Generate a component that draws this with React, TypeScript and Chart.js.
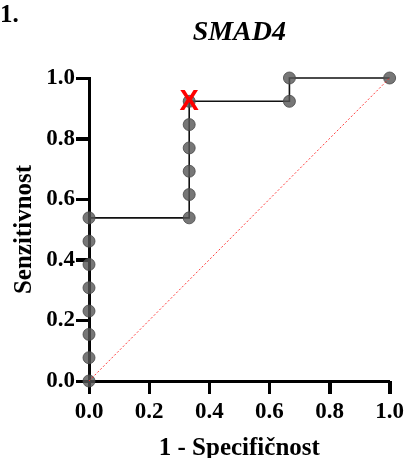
import React, { useEffect, useRef } from "react";
import { Chart, registerables } from "chart.js";

Chart.register(...registerables);

const fpr = [0, 0, 0, 0, 0, 0, 0, 0, 0.3333, 0.3333, 0.3333, 0.3333, 0.3333, 0.3333, 0.6667, 0.6667, 1];
const tpr = [0, 0.0769, 0.1538, 0.2308, 0.3077, 0.3846, 0.4615, 0.5385, 0.5385, 0.6154, 0.6923, 0.7692, 0.8462, 0.9231, 0.9231, 1, 1];
const refX = [0, 1];
const refY = [0, 1];
const cutX = [0.3333];
const cutY = [0.9231];
const panelLabel = "1.";
const chartTitle = "SMAD4";
const xTitle = "1 - Specifičnost";
const yTitle = "Senzitivnost";

const SERIF = "'Liberation Serif', 'Times New Roman', serif";
const TICK_LEN = 13;

export default function App() {
  const ref = useRef<HTMLCanvasElement>(null);
  useEffect(() => {
    const canvas = ref.current!;
    const textPlugin = {
      id: "texts",
      beforeDatasetsDraw(chart: any) {
        const ctx = chart.ctx;
        const xs = chart.scales.x;
        const ys = chart.scales.y;
        const a = chart.chartArea;
        ctx.save();
        ctx.strokeStyle = "#000";
        ctx.lineWidth = 3;
        ctx.setLineDash([]);
        ctx.beginPath();
        for (const t of xs.ticks) {
          const px = Math.round(xs.getPixelForValue(t.value)) + 0.5;
          ctx.moveTo(px, a.bottom);
          ctx.lineTo(px, a.bottom + TICK_LEN);
        }
        for (const t of ys.ticks) {
          const py = Math.round(ys.getPixelForValue(t.value)) + 0.5;
          ctx.moveTo(a.left, py);
          ctx.lineTo(a.left - TICK_LEN, py);
        }
        ctx.stroke();
        ctx.restore();
      },
      afterDatasetsDraw(chart: any) {
        const ctx = chart.ctx;
        const xs = chart.scales.x;
        const ys = chart.scales.y;
        ctx.save();
        ctx.fillStyle = "#ff0000";
        ctx.font = "bold 29px 'Liberation Sans', Arial, sans-serif";
        ctx.textAlign = "center";
        ctx.textBaseline = "middle";
        for (let i = 0; i < cutX.length; i++) {
          ctx.fillText("X", xs.getPixelForValue(cutX[i]), ys.getPixelForValue(cutY[i]) + 1);
        }
        ctx.restore();
      },
      afterDraw(chart: any) {
        const ctx = chart.ctx;
        const a = chart.chartArea;
        ctx.save();
        ctx.fillStyle = "#000";
        ctx.textBaseline = "alphabetic";
        ctx.textAlign = "left";
        ctx.font = `bold 25px ${SERIF}`;
        ctx.fillText(panelLabel, 0, 22);
        ctx.textAlign = "center";
        ctx.font = `italic bold 28px ${SERIF}`;
        ctx.fillText(chartTitle, (a.left + a.right) / 2, 40);
        ctx.font = `bold 25px ${SERIF}`;
        ctx.fillText(xTitle, (a.left + a.right) / 2, 455);
        ctx.translate(31, (a.top + a.bottom) / 2);
        ctx.rotate(-Math.PI / 2);
        ctx.fillText(yTitle, 0, 0);
        ctx.restore();
      },
    };
    const tickFont = { family: SERIF, size: 23, weight: "bold" as const };
    const chart = new Chart(canvas, {
      type: "scatter",
      data: {
        datasets: [
          {
            label: "ref",
            data: refX.map((x, i) => ({ x, y: refY[i] })),
            showLine: true,
            borderColor: "rgba(255,40,40,0.9)",
            borderWidth: 1,
            borderDash: [2, 2],
            pointRadius: 0,
            clip: false as any,
          },
          {
            label: "ROC",
            data: fpr.map((x, i) => ({ x, y: tpr[i] })),
            showLine: true,
            borderColor: "#111",
            borderWidth: 1.6,
            pointRadius: 6,
            pointBackgroundColor: "rgba(85,85,85,0.8)",
            pointBorderColor: "rgba(70,70,70,0.8)",
            pointBorderWidth: 1,
            clip: false as any,
          },
        ],
      },
      options: {
        animation: false,
        responsive: false,
        layout: { padding: { top: 78, right: 17, left: 0, bottom: 0 } },
        plugins: { legend: { display: false }, tooltip: { enabled: false } },
        scales: {
          x: {
            min: 0,
            max: 1,
            afterFit: (s: any) => { s.height = 77; },
            border: { display: true, color: "#000", width: 3 },
            grid: { drawOnChartArea: false, tickLength: TICK_LEN, tickColor: "#000", tickWidth: 3 },
            ticks: { stepSize: 0.2, color: "#000", font: tickFont, padding: 4, maxRotation: 0, callback: (v: any) => Number(v).toFixed(1) },
          },
          y: {
            min: 0,
            max: 1,
            afterFit: (s: any) => { s.width = 89; },
            border: { display: true, color: "#000", width: 3 },
            grid: { drawOnChartArea: false, tickLength: TICK_LEN, tickColor: "#000", tickWidth: 3 },
            ticks: { stepSize: 0.2, color: "#000", font: tickFont, padding: 1, callback: (v: any) => Number(v).toFixed(1) },
          },
        },
      },
      plugins: [textPlugin],
    });
    return () => chart.destroy();
  }, []);
  return (
    <div style={{ position: "fixed", left: 0, top: 0, width: 408, height: 458, background: "#fff" }}>
      <canvas ref={ref} width={408} height={458} />
    </div>
  );
}
